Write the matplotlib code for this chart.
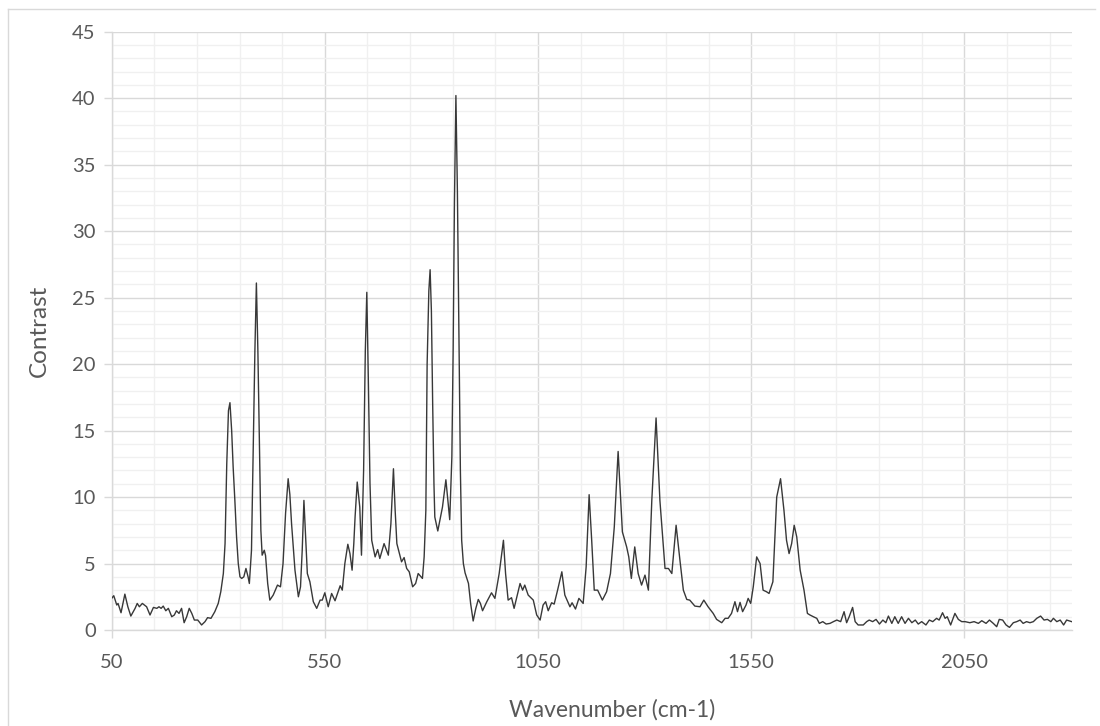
import matplotlib
matplotlib.use("Agg")
import matplotlib.pyplot as plt
from matplotlib.lines import Line2D
from matplotlib.ticker import MultipleLocator, FixedLocator

# Raman-style contrast spectrum
wavenumber = [
    50, 55, 62, 65, 72, 81, 88, 95, 105, 110, 115, 122, 132, 140, 148, 156,
    161, 166, 171, 177, 183, 191, 197, 202, 208, 214, 220, 226, 232, 238, 244,
    252, 261, 269, 275, 283, 292, 300, 306, 312, 316, 320, 324, 327.5, 331.5,
    335, 339, 343, 347, 351, 355, 360, 365, 370, 373, 378, 382, 386, 389.5,
    393, 397, 400, 403, 408, 411, 416, 421, 429, 439, 446, 452, 458, 464, 468,
    472, 480, 488, 493, 497, 501, 505, 509, 515, 523, 531, 539, 544, 550, 558,
    566, 574, 586, 591, 597, 604, 609, 614, 618, 621, 626, 632, 636, 641, 645,
    648.5, 652, 656, 660, 668, 674, 679, 689, 699, 705, 711, 715, 719, 726,
    730, 736, 742, 748, 756, 763, 769, 779, 783, 787, 790, 794, 797, 800, 803,
    806, 808, 815, 820, 826, 834, 838, 843, 848, 851, 854, 857.5, 861, 865,
    868, 871, 875, 879, 887, 892, 898, 904, 910, 915, 920, 930, 941, 949, 959,
    969, 974, 980, 988, 994, 1008, 1014, 1019, 1027, 1039, 1047, 1055, 1062,
    1068, 1074, 1082, 1088, 1096, 1106, 1113, 1125, 1130, 1138, 1146, 1156,
    1163, 1170, 1176, 1182, 1190, 1201, 1211, 1220, 1229, 1238, 1248, 1258,
    1263, 1269, 1277, 1285, 1293, 1301, 1309, 1317, 1327, 1336, 1348, 1356,
    1364, 1374, 1383, 1391, 1399, 1406, 1418, 1430, 1439, 1449, 1461, 1469,
    1481, 1489, 1496, 1504, 1512, 1518, 1524, 1530, 1538, 1543, 1549, 1555,
    1563, 1571, 1578, 1586, 1592, 1601, 1610, 1619, 1627, 1633, 1639, 1645,
    1651, 1657, 1665, 1674, 1682, 1688, 1696, 1704, 1710, 1718, 1726, 1735,
    1743, 1751, 1760, 1768, 1774, 1780, 1788, 1794, 1801, 1813, 1821, 1827,
    1835, 1843, 1851, 1859, 1866, 1872, 1880, 1887, 1895, 1903, 1911, 1919,
    1927, 1935, 1942, 1950, 1960, 1968, 1976, 1985, 1991, 1999, 2005, 2010,
    2018, 2028, 2036, 2044, 2052, 2063, 2073, 2083, 2091, 2101, 2109, 2118,
    2126, 2132, 2140, 2148, 2156, 2165, 2173, 2181, 2188, 2196, 2204, 2212,
    2220, 2229, 2237, 2245, 2253, 2259, 2267, 2275, 2283, 2290, 2302,
]
contrast = [
    2.38, 2.58, 1.88, 2.0, 1.3, 2.7, 1.75, 1.05, 1.63, 2.0, 1.75, 2.0, 1.75,
    1.13, 1.7, 1.63, 1.75, 1.63, 1.8, 1.45, 1.63, 1.0, 1.13, 1.45, 1.25, 1.63,
    0.55, 1.0, 1.63, 1.25, 0.75, 0.75, 0.38, 0.63, 0.93, 0.88, 1.38, 2.0, 2.88,
    4.25, 6.5, 12.5, 16.5, 17.1, 15.0, 12.25, 9.75, 7.0, 5.0, 4.0, 3.88, 4.0,
    4.63, 4.0, 3.5, 6.0, 13.5, 21.0, 26.1, 21.0, 13.5, 7.5, 5.63, 6.0, 5.6,
    3.5, 2.25, 2.63, 3.38, 3.25, 5.0, 8.8, 11.38, 10.2, 8.0, 4.5, 2.5, 3.25,
    6.0, 9.75, 7.0, 4.25, 3.63, 2.13, 1.63, 2.25, 2.25, 2.8, 1.75, 2.75, 2.2,
    3.33, 3.0, 5.0, 6.45, 5.75, 4.5, 6.5, 8.5, 11.13, 9.25, 5.63, 12.0, 21.0,
    25.4, 19.0, 11.0, 6.75, 5.5, 6.05, 5.38, 6.5, 5.63, 8.0, 12.13, 9.0, 6.5,
    5.63, 5.13, 5.45, 4.63, 4.38, 3.25, 3.5, 4.25, 3.88, 5.5, 9.0, 20.0, 25.5,
    27.1, 24.0, 17.0, 11.0, 8.5, 7.45, 8.25, 9.25, 11.3, 10.0, 8.3, 13.0, 21.0,
    32.0, 40.2, 33.0, 21.0, 12.0, 6.75, 5.0, 4.3, 3.5, 2.0, 0.68, 1.6, 2.3,
    2.0, 1.45, 2.13, 2.8, 2.38, 4.25, 6.75, 4.25, 2.25, 2.43, 1.63, 3.5, 3.0,
    3.38, 2.63, 2.25, 1.13, 0.75, 1.88, 2.13, 1.45, 2.05, 1.95, 3.0, 4.38,
    2.63, 1.75, 2.05, 1.58, 2.38, 2.0, 4.75, 10.18, 6.75, 3.0, 3.0, 2.25, 2.88,
    4.25, 7.75, 13.43, 7.38, 6.25, 5.5, 3.88, 6.25, 4.25, 3.38, 4.13, 3.0,
    9.75, 15.95, 9.75, 4.63, 4.63, 4.25, 7.88, 5.25, 3.0, 2.3, 2.25, 1.8, 1.75,
    2.25, 1.75, 1.25, 0.8, 0.55, 0.88, 0.88, 1.25, 2.13, 1.38, 2.08, 1.38,
    1.88, 2.38, 2.0, 3.25, 5.5, 5.0, 3.0, 2.88, 2.75, 3.63, 10.0, 11.38, 9.0,
    6.75, 5.75, 6.5, 7.88, 7.0, 4.5, 3.0, 1.25, 1.13, 1.0, 0.88, 0.5, 0.63,
    0.45, 0.5, 0.63, 0.75, 0.63, 1.38, 0.55, 1.0, 1.7, 0.63, 0.38, 0.38, 0.63,
    0.75, 0.63, 0.8, 0.45, 0.75, 0.55, 1.05, 0.5, 1.0, 0.5, 1.0, 0.5, 0.88,
    0.55, 0.75, 0.45, 0.63, 0.38, 0.75, 0.63, 0.88, 0.75, 1.3, 0.88, 1.0, 0.38,
    1.25, 0.8, 0.63, 0.63, 0.55, 0.63, 0.5, 0.7, 0.5, 0.75, 0.5, 0.25, 0.8,
    0.75, 0.38, 0.2, 0.55, 0.63, 0.75, 0.5, 0.63, 0.55, 0.63, 0.88, 1.05, 0.75,
    0.8, 0.63, 0.88, 0.63, 0.75, 0.38, 0.75, 0.63,
]

x_ticks = [50, 550, 1050, 1550, 2050]
y_ticks = [0, 5, 10, 15, 20, 25, 30, 35, 40, 45]

TEXT = "#595959"
MAJOR = "#d9d9d9"
MINOR = "#f0f0f0"

plt.rcParams["font.family"] = ["Lato", "DejaVu Sans"]

fig = plt.figure(figsize=(11, 7.26), dpi=100)
fig.patch.set_facecolor("white")
ax = fig.add_axes([0.1015, 0.1322, 0.8728, 0.8241])

ax.plot(wavenumber, contrast, color="#383838", linewidth=1.0, zorder=3)

ax.set_xlim(50, 2302)
ax.set_ylim(0, 45)
ax.xaxis.set_major_locator(FixedLocator(x_ticks))
ax.xaxis.set_minor_locator(FixedLocator(list(range(150, 2302, 100))))
ax.yaxis.set_major_locator(FixedLocator(y_ticks))
ax.yaxis.set_minor_locator(MultipleLocator(1))

ax.grid(which="major", color=MAJOR, linewidth=1.0, zorder=1)
ax.grid(which="minor", color=MINOR, linewidth=1.0, zorder=0)
ax.set_axisbelow(True)

for side in ("top", "right"):
    ax.spines[side].set_visible(False)
for side in ("left", "bottom"):
    ax.spines[side].set_color(MAJOR)
    ax.spines[side].set_linewidth(1.0)

ax.tick_params(which="major", direction="out", length=5.5, width=1.0,
               color=MAJOR, labelcolor=TEXT, labelsize=14.5)
ax.tick_params(axis="x", which="major", pad=12)
ax.tick_params(axis="y", which="major", pad=6)
ax.tick_params(which="minor", length=0)

ax.set_xlabel("Wavenumber (cm-1)", fontsize=16.5, color=TEXT)
ax.xaxis.set_label_coords(0.521, -0.115)
ax.set_ylabel("Contrast", fontsize=17.5, color=TEXT, labelpad=16)

# chart area border (top and left edges)
fig.add_artist(Line2D([8 / 1100, 1095 / 1100], [1 - 9 / 726, 1 - 9 / 726],
                      transform=fig.transFigure, color=MAJOR, linewidth=1.0))
fig.add_artist(Line2D([8 / 1100, 8 / 1100], [0, 1 - 9 / 726],
                      transform=fig.transFigure, color=MAJOR, linewidth=1.0))

fig.savefig("out.png", dpi=100)
